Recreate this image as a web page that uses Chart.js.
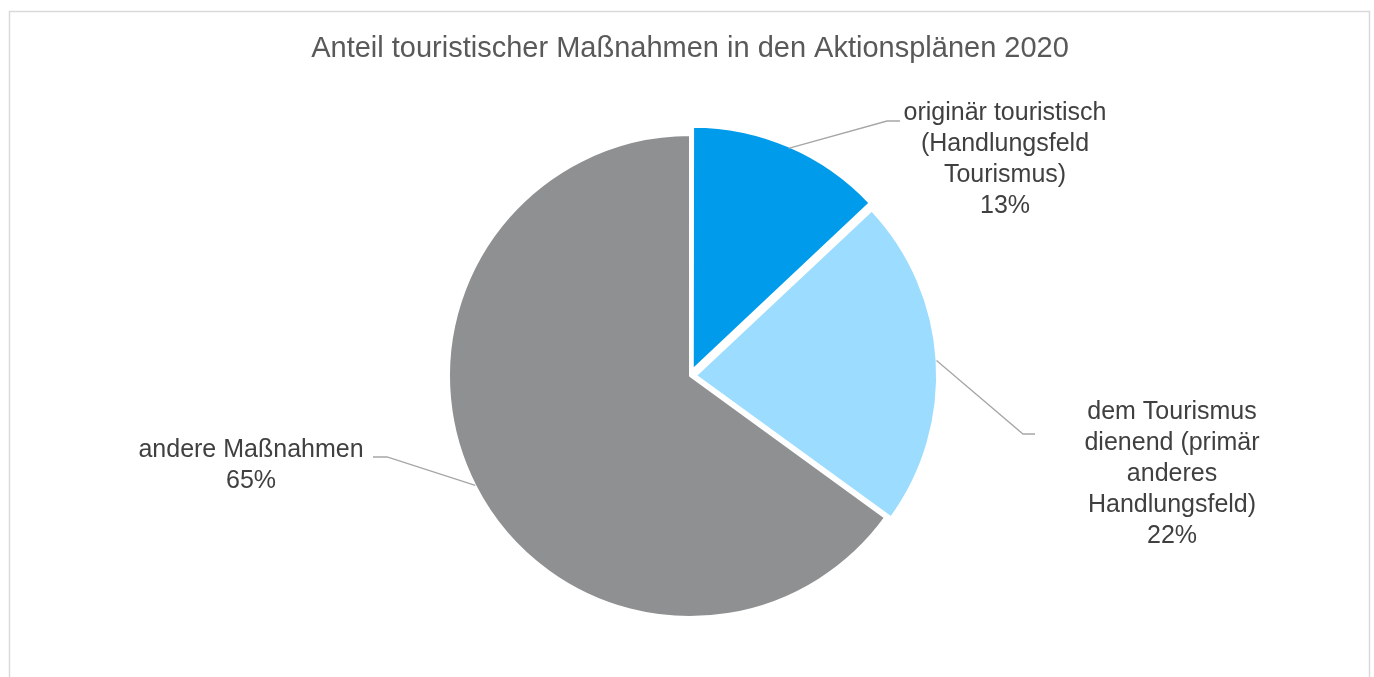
<!DOCTYPE html>
<html lang="de">
<head>
<meta charset="utf-8">
<title>Anteil touristischer Maßnahmen</title>
<script src="https://cdn.jsdelivr.net/npm/chart.js@4.4.1/dist/chart.umd.min.js"></script>
<style>
  html, body { margin: 0; padding: 0; background: #FFFFFF; }
  #wrap { position: relative; width: 1374px; height: 677px; }
</style>
</head>
<body>
<div id="wrap"><canvas id="chart"></canvas></div>
<script>
/* Anteil touristischer Maßnahmen — Kreisdiagramm */

const FONT = '"Liberation Sans", Arial, Helvetica, sans-serif';

const TITLE = 'Anteil touristischer Maßnahmen in den Aktionsplänen 2020';
const categories = [
  ['originär touristisch', '(Handlungsfeld', 'Tourismus)'],
  ['dem Tourismus', 'dienend (primär', 'anderes', 'Handlungsfeld)'],
  ['andere Maßnahmen'],
];
const values = [13, 22, 65];
const colors = ['#009BEA', '#9BDCFF', '#8F9092'];
// Chart.js zeichnet offset / 4 Pixel, also 28 -> 7 px
const offsets = [28, 24, 0];

// Lage der Datenbeschriftungen (Textmitte x, erste Grundlinie y) und Knick der Führungslinie
const labelLayout = [
  { x: 1005, y: 120, elbowX: 887, elbowY: 121, endX: 900 },
  { x: 1172, y: 419, elbowX: 1023, elbowY: 434, endX: 1035 },
  { x: 251, y: 457, elbowX: 387, elbowY: 457, endX: 373 },
];
const LINE_H = 31;

const framePlugin = {
  id: 'frame',
  beforeDraw(chart) {
    const { ctx } = chart;
    ctx.save();
    ctx.strokeStyle = '#D9D9D9';
    ctx.lineWidth = 1.5;
    ctx.strokeRect(9.5, 11.5, 1360, 700);
    ctx.restore();
  },
};

const labelPlugin = {
  id: 'outsideLabels',
  afterDraw(chart) {
    const { ctx } = chart;
    const meta = chart.getDatasetMeta(0);
    const total = values.reduce((a, b) => a + b, 0);

    ctx.save();
    // Titel
    ctx.fillStyle = '#595959';
    ctx.font = `29px ${FONT}`;
    ctx.textAlign = 'center';
    ctx.textBaseline = 'alphabetic';
    ctx.fillText(TITLE, 690, 57);

    meta.data.forEach((arc, i) => {
      const p = arc.getProps(['x', 'y', 'startAngle', 'endAngle', 'outerRadius']);
      const mid = (p.startAngle + p.endAngle) / 2;
      const r = p.outerRadius + offsets[i] / 4;
      const ax = p.x + Math.cos(mid) * r;
      const ay = p.y + Math.sin(mid) * r;
      const lay = labelLayout[i];

      ctx.strokeStyle = '#A6A6A6';
      ctx.lineWidth = 1.3;
      ctx.beginPath();
      ctx.moveTo(ax, ay);
      ctx.lineTo(lay.elbowX, lay.elbowY);
      ctx.lineTo(lay.endX, lay.elbowY);
      ctx.stroke();

      const lines = categories[i].concat([Math.round(values[i] / total * 100) + '%']);
      ctx.fillStyle = '#404040';
      ctx.font = `25px ${FONT}`;
      ctx.textAlign = 'center';
      lines.forEach((t, k) => ctx.fillText(t, lay.x, lay.y + k * LINE_H));
    });
    ctx.restore();
  },
};

new Chart(document.getElementById('chart'), {
  type: 'pie',
  data: {
    labels: categories.map(c => c.join(' ')),
    datasets: [{
      data: values,
      backgroundColor: colors,
      borderColor: '#FFFFFF',
      borderWidth: 2,
      offset: offsets,
      radius: 241,
    }],
  },
  options: {
    responsive: true,
    maintainAspectRatio: false,
    animation: false,
    layout: { padding: { left: 100, right: 94, top: 130, bottom: 55 } },
    plugins: {
      legend: { display: false },
      tooltip: { enabled: false },
      title: { display: false },
    },
  },
  plugins: [framePlugin, labelPlugin],
});
</script>
</body>
</html>
